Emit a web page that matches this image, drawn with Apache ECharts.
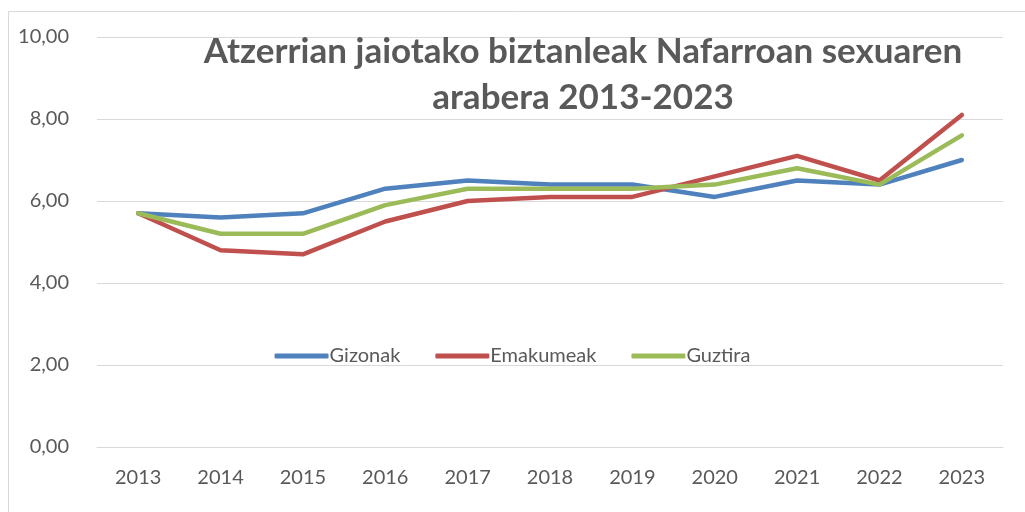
<!DOCTYPE html>
<html>
<head>
<meta charset="utf-8">
<script src="https://cdn.jsdelivr.net/npm/echarts@6/dist/echarts.min.js"></script>
<style>
  html, body { margin: 0; padding: 0; background: #fff; }
  #chart { width: 1025px; height: 512px; }
</style>
</head>
<body>
<div id="chart"></div>
<script>
// urteak eta balioak (%)
const years = ['2013', '2014', '2015', '2016', '2017', '2018', '2019', '2020', '2021', '2022', '2023'];
const gizonak = [5.7, 5.6, 5.7, 6.3, 6.5, 6.4, 6.4, 6.1, 6.5, 6.4, 7.0];
const emakumeak = [5.7, 4.8, 4.7, 5.5, 6.0, 6.1, 6.1, 6.6, 7.1, 6.5, 8.1];
const guztira = [5.7, 5.2, 5.2, 5.9, 6.3, 6.3, 6.3, 6.4, 6.8, 6.4, 7.6];
const seriesNames = ['Gizonak', 'Emakumeak', 'Guztira'];
const colors = ['#4F81BD', '#C0504D', '#9BBB59'];

const textColor = '#595959';
const font = 'Lato';

function lineSeries(name, data, color) {
    return {
        name: name,
        type: 'line',
        data: data,
        symbol: 'none',
        lineStyle: { width: 4.5, color: color, cap: 'round', join: 'round' },
        itemStyle: { color: color }
    };
}

const option = {
    animation: false,
    backgroundColor: '#fff',
    graphic: [{
        type: 'rect',
        shape: { x: 8.5, y: 11.5, width: 1100, height: 600 },
        style: { fill: 'none', stroke: '#d9d9d9', lineWidth: 1 },
        silent: true
    }],
    title: {
        text: 'Atzerrian jaiotako biztanleak Nafarroan sexuaren\narabera 2013-2023',
        left: 578,
        top: 24,
        textAlign: 'center',
        textStyle: {
            fontFamily: font,
            fontWeight: 'bold',
            fontSize: 35,
            lineHeight: 46,
            color: textColor
        }
    },
    legend: {
        data: seriesNames,
        top: 341,
        left: 'center',
        icon: 'roundRect',
        itemWidth: 54,
        itemHeight: 5,
        itemGap: 35,
        textStyle: { fontFamily: font, fontSize: 20, color: textColor, padding: [0, 0, 0, -4] }
    },
    grid: { left: 97, right: 22, top: 37, bottom: 65, containLabel: false },
    xAxis: {
        type: 'category',
        data: years,
        boundaryGap: true,
        axisLine: { show: true, lineStyle: { color: '#d9d9d9', width: 1 } },
        axisTick: { show: false },
        axisLabel: { fontFamily: font, fontSize: 20, color: textColor, margin: 21 }
    },
    yAxis: {
        type: 'value',
        min: 0,
        max: 10,
        interval: 2,
        axisLine: { show: false },
        axisTick: { show: false },
        splitLine: { lineStyle: { color: '#d9d9d9', width: 1 } },
        axisLabel: {
            fontFamily: font, fontSize: 20, color: textColor, margin: 28,
            formatter: v => v.toFixed(2).replace('.', ',')
        }
    },
    series: [
        lineSeries(seriesNames[0], gizonak, colors[0]),
        lineSeries(seriesNames[1], emakumeak, colors[1]),
        lineSeries(seriesNames[2], guztira, colors[2])
    ]
};

const myChart = echarts.init(document.getElementById('chart'));
myChart.setOption(option);
window.addEventListener('resize', function() {
    myChart.resize();
});
</script>
</body>
</html>
